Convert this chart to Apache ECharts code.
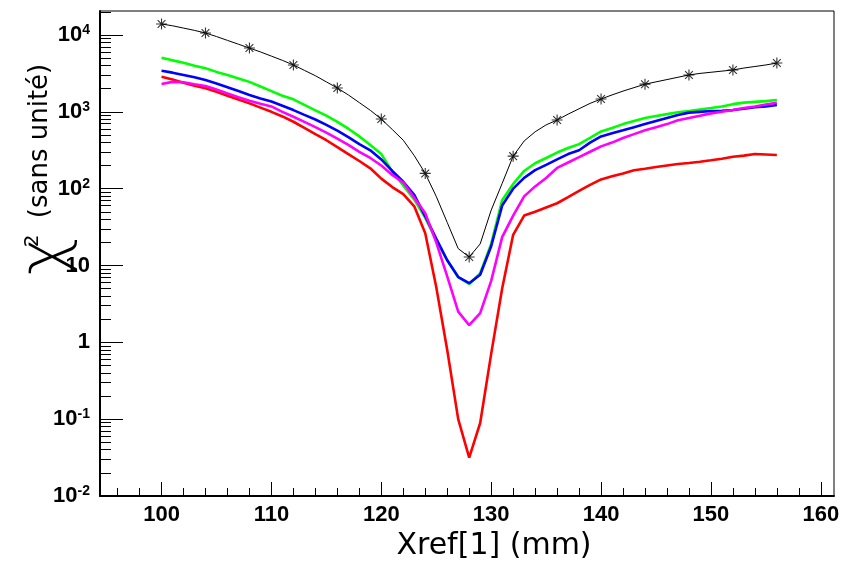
<!DOCTYPE html>
<html><head><meta charset="utf-8">
<script src="https://cdn.jsdelivr.net/npm/echarts@6/dist/echarts.min.js"></script>
<style>html,body{margin:0;padding:0;background:#fff}#c{width:843px;height:561px}</style>
</head><body><div id="c"></div>
<script>
const xValues = [100,101,102,103,104,105,106,107,108,109,110,111,112,113,114,115,116,117,118,119,120,121,122,123,124,125,126,127,128,129,130,131,132,133,134,135,136,137,138,139,140,141,142,143,144,145,146,147,148,149,150,151,152,153,154,155,156];
const blackValues = [13900,13183,12303,11482,10617,9550,8511,7586,6761,6026,5309,4677,4074,3467,2951,2455,2042,1660,1318,1047,805,589,427,269,158,79.4,36.3,16.6,12.9,19.1,52.5,117,265,417,550,676,782,933,1096,1288,1469,1660,1862,2065,2291,2455,2630,2818,3020,3162,3273,3388,3508,3715,3890,4074,4315];
const greenValues = [5058,4677,4365,3981,3681,3311,3020,2723,2455,2138,1862,1622,1455,1230,1047,891,741,603,479,370,282,166,110,72,41.7,21.4,11.7,7.08,5.75,7.94,19.1,70.8,115,170,214,251,295,339,380,457,556,617,692,759,832,881,933,989,1023,1072,1122,1175,1259,1318,1349,1380,1426];
const blueValues = [3428,3236,3020,2818,2594,2344,2089,1862,1656,1496,1365,1202,1054,912,794,676,569,468,380,316,240,170,123,83,43.7,22.4,11.7,7.08,5.89,7.59,17.8,60.3,100,138,174,204,240,282,316,398,479,525,575,631,692,759,832,912,977,1000,1023,1035,1054,1096,1148,1175,1225];
const magentaValues = [2301,2455,2427,2291,2168,1950,1738,1549,1396,1274,1175,1000,863,741,631,537,447,372,302,251,200,151,120,75.9,47.9,20.0,7.24,2.51,1.67,2.40,6.31,23.4,44.7,79.4,107,138,186,219,257,302,355,398,457,513,575,631,692,776,832,891,955,1000,1054,1122,1175,1245,1315];
const redValues = [2864,2630,2399,2188,2023,1820,1622,1445,1288,1135,1000,871,743,617,513,427,347,282,229,184,135,105,85.1,58.9,26.3,5.25,0.794,0.100,0.0316,0.0891,0.708,5.01,25.1,44.7,50.1,56.9,64.6,77.6,93.3,112,132,145,158,174,182,191,200,209,216,224,234,245,260,269,282,279,274];
const markerX = [100,104,108,112,116,120,124,128,132,136,140,144,148,152,156];

const xTickMajor = [100,110,120,130,140,150,160];
const xTickMinor = [96,98,102,104,106,108,112,114,116,118,122,124,126,128,132,134,136,138,142,144,146,148,152,154,156,158];
const yTickMajor = [0.01,0.1,1,10,100,1000,10000];
const yTickLabels = [['10','-2'],['10','-1'],['1',''],['10',''],['10','2'],['10','3'],['10','4']];
const yTickMinor = [0.02,0.03,0.04,0.05,0.06,0.07,0.08,0.09,0.2,0.3,0.4,0.5,0.6,0.7,0.8,0.9,2,3,4,5,6,7,8,9,20,30,40,50,60,70,80,90,200,300,400,500,600,700,800,900,2000,3000,4000,5000,6000,7000,8000,9000,20000];

const xTitle = 'Xref[1] (mm)';
const yTitleSymbol = 'χ';
const yTitleExponent = '2';
const yTitleUnit = '(sans unité)';

const xMin = 94.4, xMax = 161.2, yMin = 0.01, yMax = 20530;

const star = 'path://M9 0L11 0L11 20L9 20Z M0 9L20 9L20 11L0 11Z M2.22 3.64L3.64 2.22L17.78 16.36L16.36 17.78Z M16.36 2.22L17.78 3.64L3.64 17.78L2.22 16.36Z M7.5 7.5L12.5 7.5L12.5 12.5L7.5 12.5Z';

const pair = arr => xValues.map((x, i) => [x, arr[i]]);
const markers = markerX.map(x => [x, blackValues[xValues.indexOf(x)]]);

function yLabel(v) {
  const e = Math.round(Math.log10(v));
  const i = yTickMajor.findIndex(t => Math.round(Math.log10(t)) === e);
  if (i < 0) return '';
  const l = yTickLabels[i];
  return '{b|' + l[0] + '}' + (l[1] ? '{s|' + l[1] + '}' : '');
}

const chart = echarts.init(document.getElementById('c'));
const lineSeries = (name, data, color, w) => ({
  name, type: 'line', data, showSymbol: false, symbol: 'none', smooth: false,
  lineStyle: { color, width: w }, itemStyle: { color }, z: 3
});
const rotText = (text, x, y, size, weight) => ({
  type: 'text', x, y, rotation: Math.PI / 2, z: 10,
  style: { text, fontFamily: 'DejaVu Sans', fontSize: size, fontWeight: weight || 'normal', fill: '#000', align: 'center', verticalAlign: 'middle' }
});

chart.setOption({
  animation: false,
  backgroundColor: '#fff',
  grid: { left: 100, right: 9, top: 11, bottom: 65, show: true, borderColor: '#000', borderWidth: 1, containLabel: false, outerBoundsMode: 'none' },
  graphic: [
    rotText(yTitleUnit, 40, 141, 26),
    rotText(yTitleSymbol, 47, 256, 64, 200),
    rotText(yTitleExponent, 33, 241, 20)
  ],
  xAxis: [
    {
      type: 'value', min: xMin, max: xMax, position: 'bottom',
      axisLine: { lineStyle: { color: '#000', width: 2 } },
      axisTick: { inside: true, length: 14, customValues: xTickMajor, lineStyle: { color: '#000', width: 1 } },
      axisLabel: { customValues: xTickMajor, margin: 8, fontFamily: 'Liberation Sans', fontWeight: 'bold', fontSize: 22, color: '#000' },
      splitLine: { show: false },
      name: xTitle, nameLocation: 'middle', nameGap: 33,
      nameTextStyle: { fontFamily: 'DejaVu Sans', fontSize: 30, color: '#000', padding: [0, 0, 0, 54] }
    },
    {
      type: 'value', min: xMin, max: xMax, position: 'bottom',
      axisLine: { show: false },
      axisTick: { inside: true, length: 8, customValues: xTickMinor, lineStyle: { color: '#000', width: 1 } },
      axisLabel: { show: false }, splitLine: { show: false }
    }
  ],
  yAxis: [
    {
      type: 'log', logBase: 10, min: yMin, max: yMax, position: 'left',
      axisLine: { lineStyle: { color: '#000', width: 2 } },
      axisTick: { inside: true, length: 23, customValues: yTickMajor, lineStyle: { color: '#000', width: 1 } },
      axisLabel: {
        customValues: yTickMajor, margin: 10, formatter: yLabel,
        rich: {
          b: { fontFamily: 'Liberation Sans', fontWeight: 'bold', fontSize: 22, color: '#000', lineHeight: 24 },
          s: { fontFamily: 'Liberation Sans', fontWeight: 'bold', fontSize: 14, color: '#000', lineHeight: 13, verticalAlign: 'top' }
        }
      },
      splitLine: { show: false }, minorTick: { show: false }
    },
    {
      type: 'log', logBase: 10, min: yMin, max: yMax, position: 'left',
      axisLine: { show: false },
      axisTick: { inside: true, length: 11, customValues: yTickMinor, lineStyle: { color: '#000', width: 1 } },
      axisLabel: { show: false }, splitLine: { show: false }
    }
  ],
  series: [
    lineSeries('rouge', pair(redValues), '#ff0000', 2.6),
    lineSeries('vert', pair(greenValues), '#00ff00', 2.6),
    lineSeries('bleu', pair(blueValues), '#0000ff', 2.6),
    lineSeries('magenta', pair(magentaValues), '#ff00ff', 2.6),
    lineSeries('noir', pair(blackValues), '#000000', 1),
    {
      name: 'noir marqueurs', type: 'scatter', data: markers, symbol: star, symbolSize: 11,
      itemStyle: { color: '#000' }, z: 4
    }
  ]
});
</script>
</body></html>
